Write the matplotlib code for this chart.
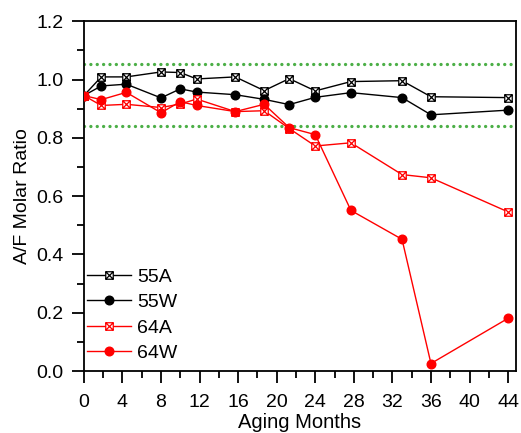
import matplotlib
matplotlib.use("Agg")
import matplotlib.pyplot as plt
from matplotlib.path import Path
from matplotlib.ticker import MultipleLocator

plt.rcParams['font.family'] = ['Liberation Sans', 'DejaVu Sans']

months = [0, 1.8, 4.4, 8, 10, 11.7, 15.7, 18.7, 21.3, 24, 27.7, 33, 36, 44]
s55A = [0.945, 1.009, 1.009, 1.026, 1.024, 1.002, 1.009, 0.962, 1.003, 0.961, 0.993, 0.996, 0.941, 0.938]
s55W = [0.945, 0.978, 0.984, 0.937, 0.968, 0.957, 0.948, 0.932, 0.914, 0.939, 0.955, 0.938, 0.879, 0.895]
s64A = [0.945, 0.911, 0.915, 0.904, 0.916, 0.933, 0.890, 0.893, 0.832, 0.772, 0.783, 0.674, 0.663, 0.546]
s64W = [0.945, 0.931, 0.956, 0.886, 0.924, 0.911, 0.890, 0.915, 0.835, 0.811, 0.551, 0.452, 0.026, 0.181]
limits = [1.052, 0.842]
xticks = list(range(0, 45, 4))

verts = [(-1, -1), (1, -1), (1, 1), (-1, 1), (-1, -1),
         (-1, -1), (1, 1), (-1, 1), (1, -1)]
codes = [Path.MOVETO, Path.LINETO, Path.LINETO, Path.LINETO, Path.CLOSEPOLY,
         Path.MOVETO, Path.LINETO, Path.MOVETO, Path.LINETO]
boxx = Path(verts, codes)

fig = plt.figure(figsize=(5.21, 4.33), dpi=100)
ax = fig.add_axes([0.161, 0.143, 0.829, 0.808])

for y in limits:
    ax.axhline(y, color='#4caf47', linestyle=(0, (0.01, 1.9)), linewidth=2.4,
               dash_capstyle='round', zorder=1)

ax.plot(months, s55A, color='black', lw=1, marker=boxx, ms=5.4, mfc='white',
        mec='black', mew=0.9, label='55A', zorder=3)
ax.plot(months, s55W, color='black', lw=1, marker='o', ms=6.2, mfc='black',
        mec='black', label='55W', zorder=3)
ax.plot(months, s64A, color='red', lw=1, marker=boxx, ms=5.4, mfc='white',
        mec='red', mew=0.9, label='64A', zorder=4)
ax.plot(months, s64W, color='red', lw=1, marker='o', ms=6.2, mfc='red',
        mec='red', label='64W', zorder=4)

ax.set_xlim(0, 44.8)
ax.set_ylim(0, 1.2)
ax.set_xticks(xticks)
ax.xaxis.set_minor_locator(MultipleLocator(2))
ax.yaxis.set_major_locator(MultipleLocator(0.2))
ax.yaxis.set_minor_locator(MultipleLocator(0.1))
ax.set_yticklabels([f"{v:.1f}" for v in ax.get_yticks()])
ax.tick_params(which='major', direction='out', length=8.6, width=1.3, labelsize=14)
ax.tick_params(which='minor', direction='out', length=5, width=1.3)
ax.tick_params(axis='x', which='major', pad=8)
ax.tick_params(axis='y', which='major', pad=6)
for sp in ax.spines.values():
    sp.set_linewidth(1.3)
ax.set_xlabel('Aging Months', fontsize=14.5, labelpad=1)
ax.set_ylabel('A/F Molar Ratio', fontsize=14, labelpad=4)

ax.legend(loc='lower left', bbox_to_anchor=(0.007, 0.026), frameon=False,
          fontsize=14, handlelength=2.27, handletextpad=0.3, labelspacing=0.4,
          borderaxespad=0, borderpad=0)

fig.savefig('out.png', dpi=100)
